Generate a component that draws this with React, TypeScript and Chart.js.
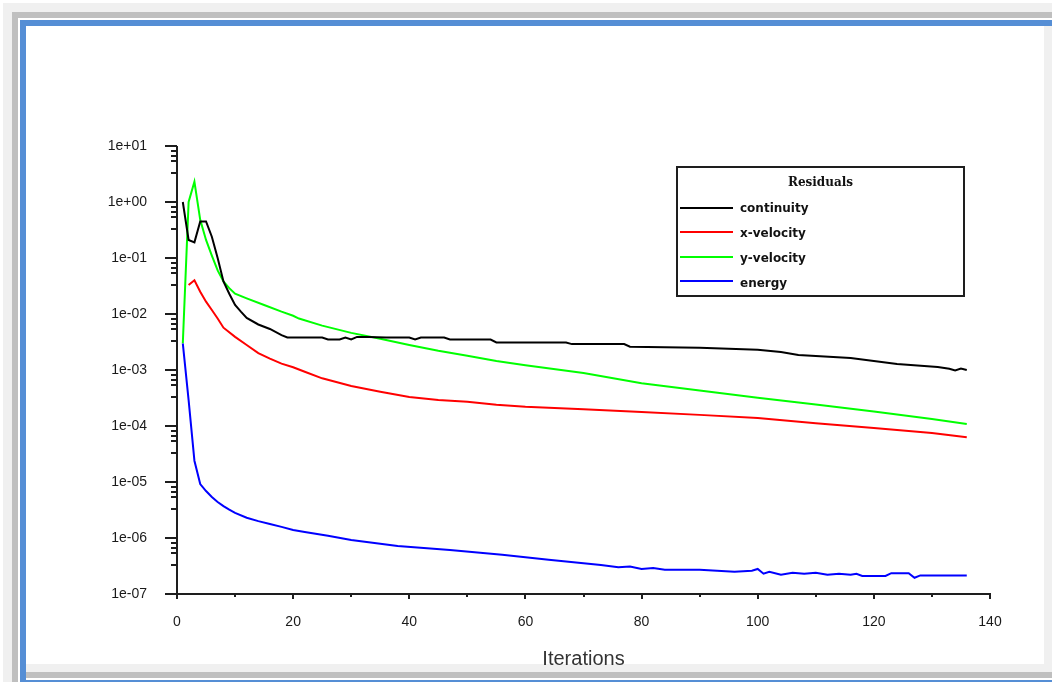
import React, { useEffect, useRef } from "react";
import { Chart, registerables } from "chart.js";

Chart.register(...registerables);

// ---- data ----
const CONT_IT = [1, 2, 3, 4, 5, 6, 7, 8, 9, 10, 11, 12, 14, 16, 18, 19, 22, 25, 26, 28, 29, 30, 31, 33, 36, 40, 41, 42, 46, 47, 54, 55, 67, 68, 77, 78, 90, 100, 104, 107, 116, 124, 131, 133, 134, 135, 136];
const CONT_VAL = [1.0, 0.21, 0.19, 0.45, 0.45, 0.24, 0.10, 0.038, 0.023, 0.0145, 0.011, 0.0085, 0.0065, 0.0054, 0.0042, 0.0038, 0.0038, 0.0038, 0.0035, 0.0035, 0.0038, 0.0035, 0.0039, 0.0039, 0.0038, 0.0038, 0.0035, 0.0038, 0.0038, 0.0035, 0.0035, 0.0031, 0.0031, 0.0029, 0.0029, 0.0026, 0.0025, 0.0023, 0.0021, 0.00186, 0.00164, 0.00128, 0.00113, 0.00105, 0.00098, 0.00106, 0.0010];

const XVEL_IT = [2, 3, 4, 5, 6, 7, 8, 10, 12, 14, 16, 18, 20, 22, 25, 30, 35, 40, 45, 50, 55, 60, 70, 80, 90, 100, 110, 120, 130, 136];
const XVEL_VAL = [0.033, 0.040, 0.025, 0.0166, 0.0118, 0.0083, 0.0057, 0.0039, 0.0028, 0.0020, 0.0016, 0.0013, 0.00112, 0.00093, 0.00071, 0.00052, 0.00041, 0.00033, 0.00029, 0.00027, 0.00024, 0.00022, 0.00020, 0.000178, 0.000158, 0.000139, 0.000112, 0.000092, 0.000075, 0.000063];

const YVEL_IT = [1, 2, 3, 4, 5, 6, 7, 8, 9, 10, 12, 15, 18, 20, 21, 25, 30, 35, 40, 45, 50, 55, 60, 70, 80, 90, 100, 110, 120, 130, 136];
const YVEL_VAL = [0.003, 1.0, 2.3, 0.48, 0.21, 0.11, 0.06, 0.038, 0.029, 0.023, 0.019, 0.0145, 0.011, 0.0093, 0.0083, 0.0062, 0.0046, 0.0036, 0.0028, 0.0022, 0.0018, 0.00145, 0.00122, 0.00088, 0.00058, 0.00043, 0.00032, 0.000242, 0.000182, 0.000133, 0.000109];

const ENERGY_IT = [1, 2, 3, 4, 5, 6, 7, 8, 9, 10, 12, 14, 16, 18, 20, 22, 26, 30, 38, 47, 56, 64, 73, 76, 78, 80, 82, 84, 90, 96, 99, 100, 101, 102, 104, 106, 108, 110, 112, 114, 116, 117, 118, 122, 123, 126, 127, 128, 136];
const ENERGY_VAL = [0.003, 0.00029, 2.4e-5, 9.2e-6, 6.9e-6, 5.4e-6, 4.4e-6, 3.7e-6, 3.2e-6, 2.8e-6, 2.3e-6, 2.0e-6, 1.78e-6, 1.58e-6, 1.39e-6, 1.28e-6, 1.1e-6, 9.2e-7, 7.2e-7, 6.1e-7, 5.0e-7, 4.1e-7, 3.3e-7, 3.0e-7, 3.1e-7, 2.8e-7, 2.9e-7, 2.7e-7, 2.7e-7, 2.5e-7, 2.6e-7, 2.8e-7, 2.3e-7, 2.5e-7, 2.2e-7, 2.4e-7, 2.3e-7, 2.4e-7, 2.2e-7, 2.3e-7, 2.2e-7, 2.3e-7, 2.1e-7, 2.1e-7, 2.35e-7, 2.35e-7, 1.95e-7, 2.15e-7, 2.15e-7];

const SERIES_NAMES = ["continuity", "x-velocity", "y-velocity", "energy"];
const SERIES_COLORS = ["#000000", "#ff0000", "#00ff00", "#0000ff"];
const LEGEND_TITLE = "Residuals";
const X_TITLE = "Iterations";

const X_MAJOR = [0, 20, 40, 60, 80, 100, 120, 140];
const X_MINOR = [10, 30, 50, 70, 90, 110, 130];
const Y_MAJOR = [1e-7, 1e-6, 1e-5, 1e-4, 1e-3, 1e-2, 1e-1, 1, 10];
const Y_MINOR_MULT = [8, 6.7, 5.5, 3.3];

function fmtExp(v: number): string {
  const e = Math.round(Math.log10(v));
  return "1e" + (e < 0 ? "-" : "+") + String(Math.abs(e)).padStart(2, "0");
}

function pts(xs: number[], ys: number[]) {
  return xs.map((x, i) => ({ x, y: ys[i] }));
}

const decorPlugin = {
  id: "decor",
  afterDraw(chart: any) {
    const { ctx, chartArea: a, scales } = chart;
    const xs = scales.x;
    const ys = scales.y;
    ctx.save();
    ctx.strokeStyle = "#1e1e1e";
    ctx.lineWidth = 2;
    ctx.lineCap = "butt";
    // axis lines
    ctx.beginPath();
    ctx.moveTo(a.left, a.top);
    ctx.lineTo(a.left, a.bottom + 1);
    ctx.moveTo(a.left - 1, a.bottom);
    ctx.lineTo(a.right + 1, a.bottom);
    ctx.stroke();
    // y ticks
    ctx.beginPath();
    Y_MAJOR.forEach((v) => {
      const py = Math.round(ys.getPixelForValue(v));
      ctx.moveTo(a.left - 12, py);
      ctx.lineTo(a.left, py);
      if (v < 10) {
        Y_MINOR_MULT.forEach((m) => {
          const pm = Math.round(ys.getPixelForValue(v * m));
          ctx.moveTo(a.left - 6, pm);
          ctx.lineTo(a.left, pm);
        });
      }
    });
    // x ticks
    X_MAJOR.forEach((v) => {
      const px = Math.round(xs.getPixelForValue(v));
      ctx.moveTo(px, a.bottom);
      ctx.lineTo(px, a.bottom + 5);
    });
    X_MINOR.forEach((v) => {
      const px = Math.round(xs.getPixelForValue(v));
      ctx.moveTo(px, a.bottom);
      ctx.lineTo(px, a.bottom + 3);
    });
    ctx.stroke();

    // legend box
    const L = 676, T = 166, R = 965, B = 297;
    ctx.strokeStyle = "#1e1e1e";
    ctx.lineWidth = 2;
    ctx.strokeRect(L + 1, T + 1, R - L - 2, B - T - 2);
    ctx.fillStyle = "#111";
    ctx.textBaseline = "middle";
    ctx.textAlign = "center";
    ctx.font = "bold 12px 'DejaVu Serif'";
    ctx.fillText(LEGEND_TITLE, (L + R) / 2, 183);
    ctx.textAlign = "left";
    ctx.font = "bold 12px 'DejaVu Sans'";
    chart.data.datasets.forEach((ds: any, i: number) => {
      const ry = Math.round(207.5 + i * 24.6);
      ctx.strokeStyle = ds.borderColor;
      ctx.lineWidth = 2;
      ctx.beginPath();
      ctx.moveTo(680, ry);
      ctx.lineTo(733, ry);
      ctx.stroke();
      ctx.fillStyle = "#111";
      ctx.fillText(ds.label, 740, 208.5 + i * 25);
    });
    ctx.restore();
  },
};

export default function App() {
  const ref = useRef<HTMLCanvasElement | null>(null);

  useEffect(() => {
    if (!ref.current) return;
    const series = [
      pts(CONT_IT, CONT_VAL),
      pts(XVEL_IT, XVEL_VAL),
      pts(YVEL_IT, YVEL_VAL),
      pts(ENERGY_IT, ENERGY_VAL),
    ];
    const chart = new Chart(ref.current, {
      type: "line",
      data: {
        datasets: series.map((d, i) => ({
          label: SERIES_NAMES[i],
          data: d,
          borderColor: SERIES_COLORS[i],
          backgroundColor: SERIES_COLORS[i],
          borderWidth: 2,
          pointRadius: 0,
          tension: 0,
          fill: false,
        })),
      },
      options: {
        responsive: false,
        animation: false,
        devicePixelRatio: 1,
        layout: { padding: { left: 97, top: 146, right: 62, bottom: 0 } },
        plugins: {
          legend: { display: false },
          tooltip: { enabled: false },
        },
        scales: {
          x: {
            type: "linear",
            min: 0,
            max: 140,
            afterBuildTicks: (s: any) => {
              s.ticks = X_MAJOR.map((v) => ({ value: v }));
            },
            afterFit: (s: any) => {
              s.height = 88;
            },
            grid: { display: false, drawTicks: false },
            border: { display: false },
            ticks: {
              padding: 20,
              color: "#1a1a1a",
              autoSkip: false,
              maxRotation: 0,
              font: { family: "'Liberation Sans', Arial, sans-serif", size: 14 },
            },
            title: {
              display: true,
              text: X_TITLE,
              color: "#333",
              font: { family: "'Liberation Sans', Arial, sans-serif", size: 20 },
              padding: { top: 0, bottom: 11 },
            },
          },
          y: {
            type: "logarithmic",
            min: 1e-7,
            max: 10,
            afterBuildTicks: (s: any) => {
              s.ticks = Y_MAJOR.map((v) => ({ value: v }));
            },
            afterFit: (s: any) => {
              s.width = 80;
            },
            grid: { display: false, drawTicks: false },
            border: { display: false },
            ticks: {
              padding: 30,
              color: "#1a1a1a",
              autoSkip: false,
              font: { family: "'Liberation Sans', Arial, sans-serif", size: 14 },
              callback: (v: any) => fmtExp(Number(v)),
            },
          },
        },
      },
      plugins: [decorPlugin],
    } as any);
    return () => chart.destroy();
  }, []);

  const abs = (l: number, t: number, w: number, h: number, bg: string): React.CSSProperties => ({
    position: "absolute",
    left: l,
    top: t,
    width: w,
    height: h,
    background: bg,
  });

  const LIGHT = "#f0f0f0";
  const GRAY = "#bfbfbf";
  const BLUE = "#558ed5";

  return (
    <div style={{ position: "absolute", left: 0, top: 0, width: 1052, height: 682, background: "#ffffff", overflow: "hidden" }}>
      <div style={abs(3, 3, 1049, 9, LIGHT)} />
      <div style={abs(3, 3, 9, 679, LIGHT)} />
      <div style={abs(12, 12, 1040, 6, GRAY)} />
      <div style={abs(12, 12, 6, 670, GRAY)} />
      <div style={abs(20, 20, 1032, 6, BLUE)} />
      <div style={abs(20, 20, 6, 662, BLUE)} />
      <div style={abs(1044, 26, 8, 638, LIGHT)} />
      <div style={abs(26, 664, 1026, 8, LIGHT)} />
      <div style={abs(26, 672, 1026, 6, GRAY)} />
      <div style={abs(26, 680, 1026, 2, BLUE)} />
      <canvas ref={ref} width={1052} height={682} style={{ position: "absolute", left: 0, top: 0, width: 1052, height: 682 }} />
    </div>
  );
}
